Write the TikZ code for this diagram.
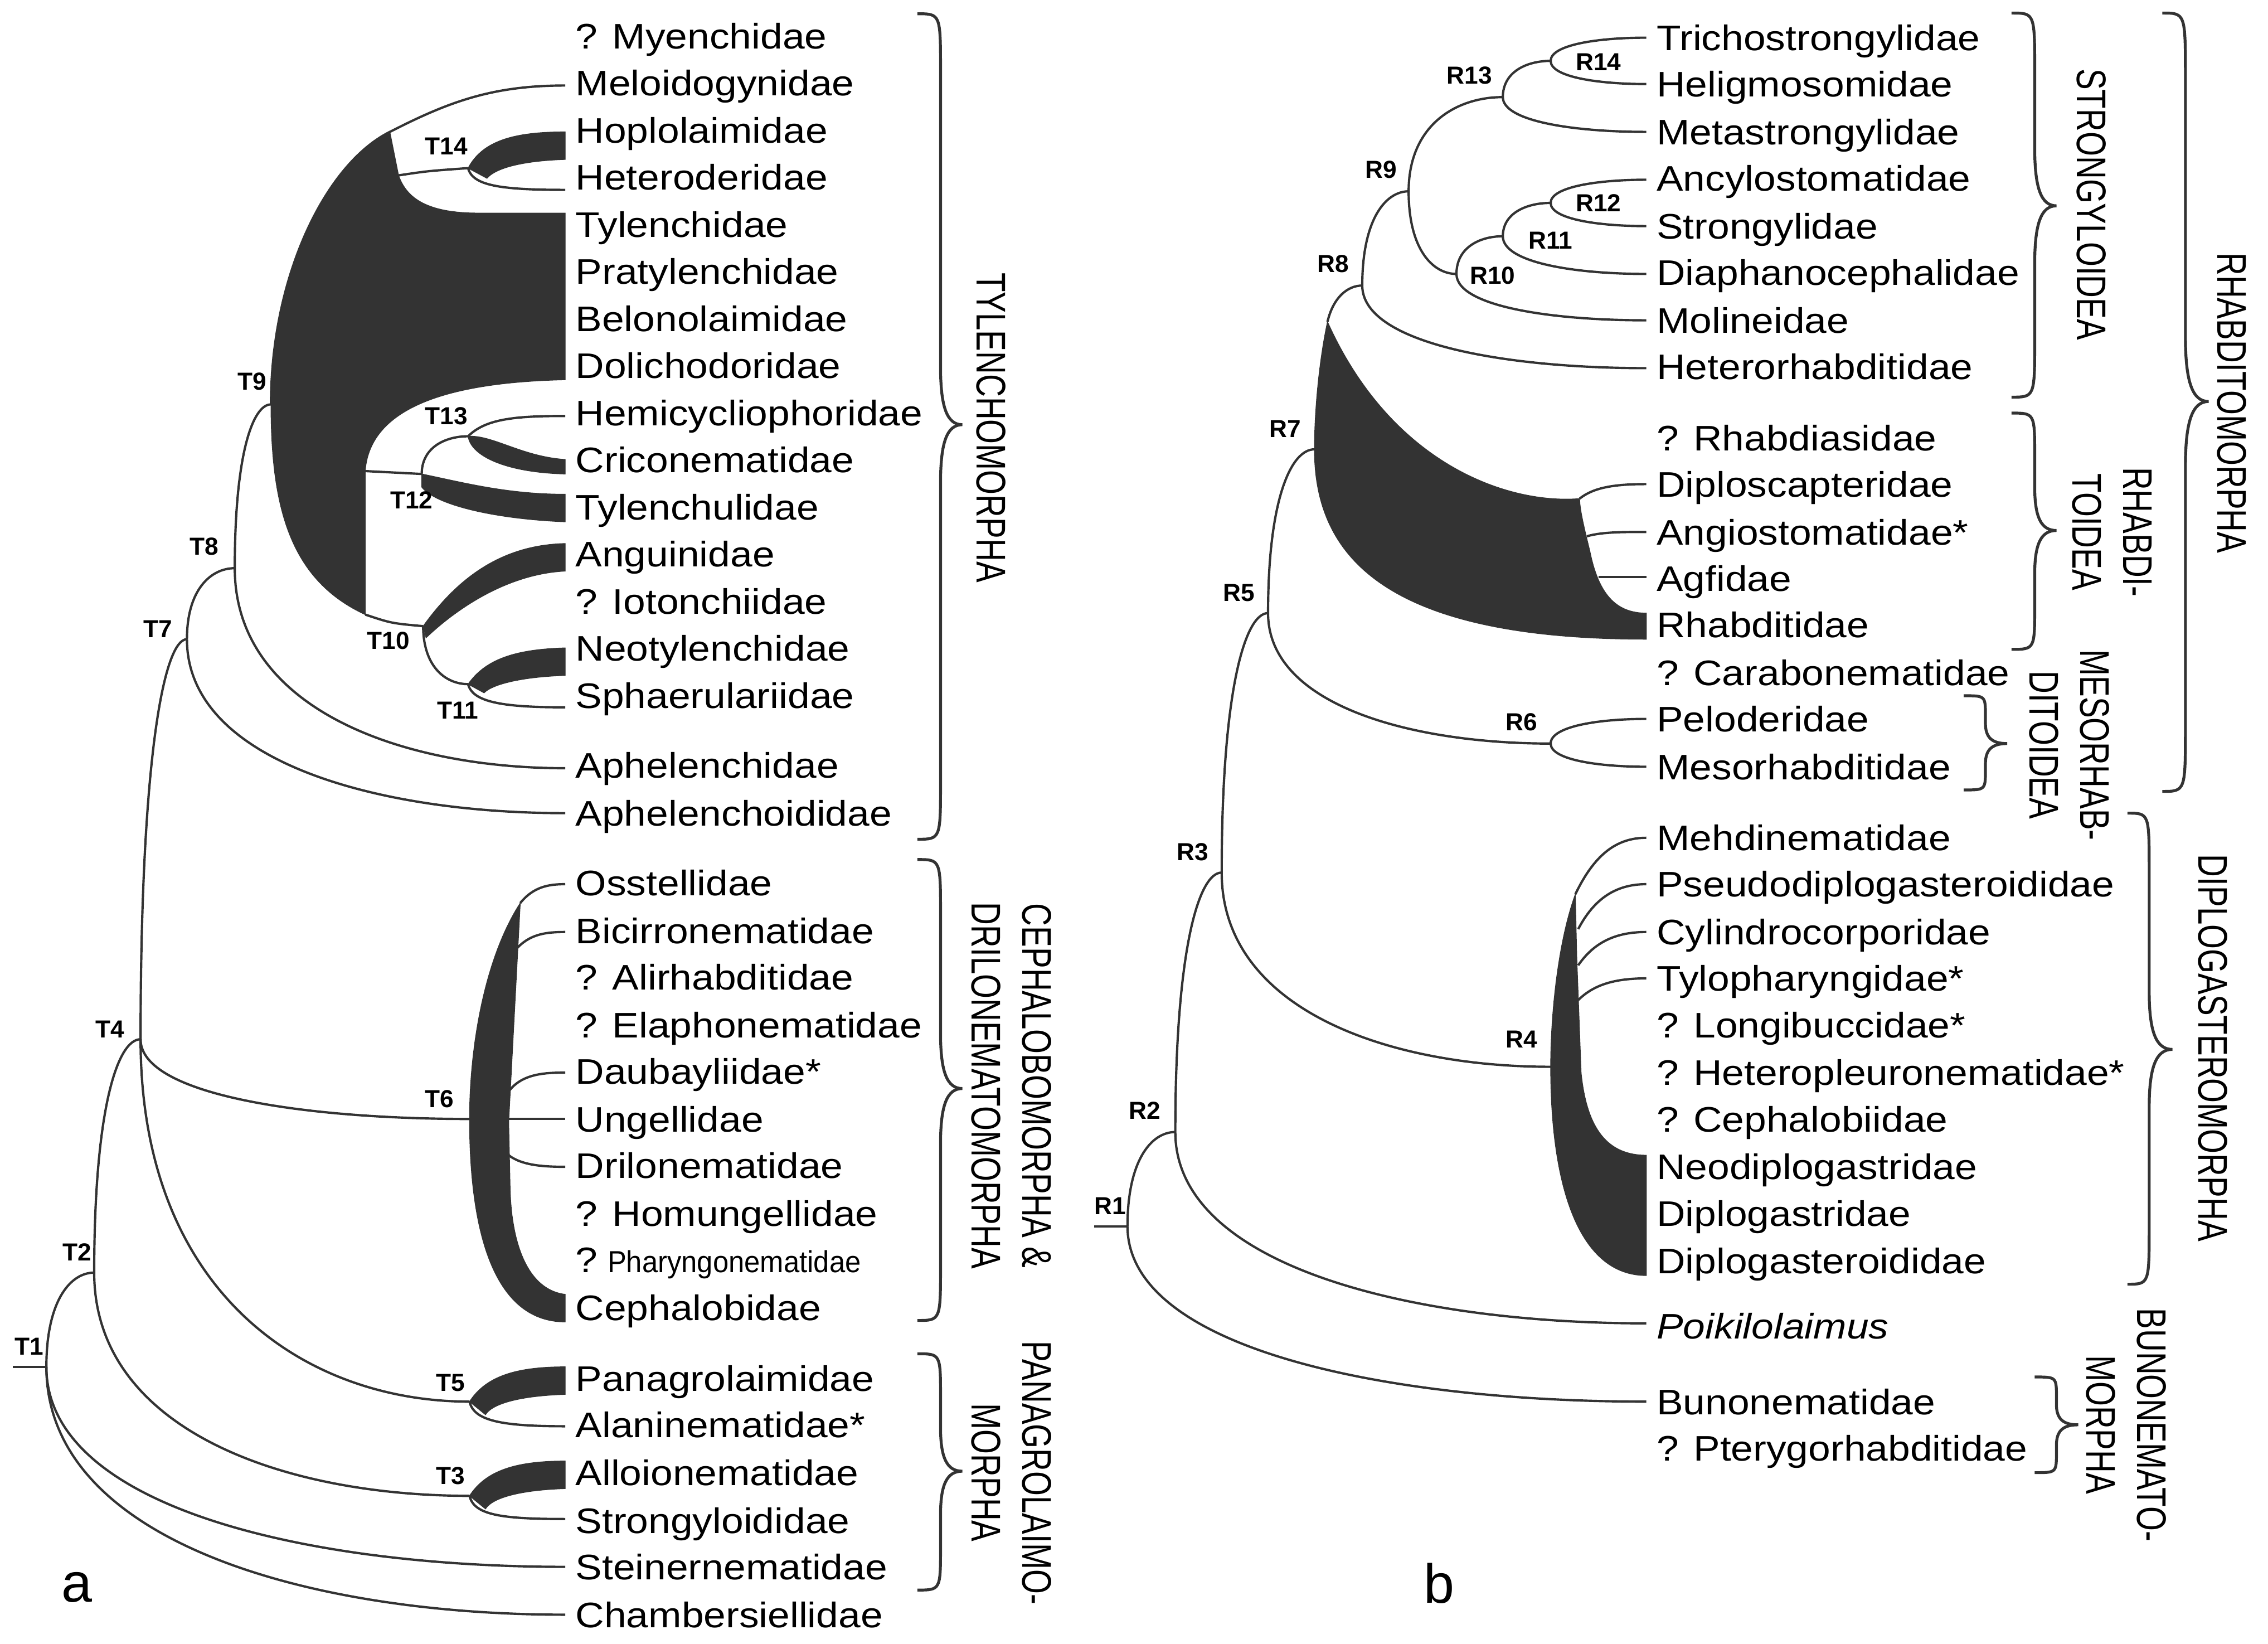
\documentclass[tikz,border=0pt]{standalone}
\usepackage{fontspec}
\setmainfont{Liberation Sans}
\usetikzlibrary{calc}
\definecolor{ink}{HTML}{333333}
\tikzset{
 br/.style={draw=ink, line width=1.6pt},
 blk/.style={fill=ink, draw=ink, line width=0.5pt},
 leaf/.style={inner sep=0pt, font=\fontsize{24.5}{29}\selectfont, anchor=base west},
 lab/.style={inner sep=0pt, font=\bfseries\fontsize{17}{20}\selectfont},
 grp/.style={inner sep=0pt, rotate=-90, align=center, font=\fontsize{28.6}{35}\selectfont},
 brc/.style={draw=ink, line width=2pt},
 pan/.style={inner sep=0pt, anchor=base, font=\fontsize{38}{40}\selectfont},
}
\newcommand\lf[1]{\scalebox{1.12}[1]{#1}}
\newcommand\gp[1]{\scalebox{0.76}[1]{#1}}
\newcommand\twig[2]{\draw[br] (#1) .. controls ($(#1)!0.7!(#1|-#2)$) and ($(#1|-#2)!0.5!(#2)$) .. (#2);}
\newcommand\lfa[3]{\node[leaf] (#1) at (397,{#2+8.8}) {\lf{#3}};}
\newcommand\lfb[3]{\node[leaf] (#1) at (1143,{#2+8.8}) {\lf{#3}};}
\newcommand\brc[7]{\draw[brc] (#1,#4) .. controls (#2,#4) and (#2,#4) .. (#2,{#4+#7}) -- (#2,{#5-#7}) .. controls (#2,{#5-0.3*#7}) and ({#2+0.3*(#3-#2)},#5) .. (#3,#5) .. controls ({#2+0.3*(#3-#2)},#5) and (#2,{#5+0.3*#7}) .. (#2,{#5+#7}) -- (#2,{#6-#7}) .. controls (#2,#6) and (#2,#6) .. (#1,#6);}
\begin{document}
\begin{tikzpicture}[x=1pt,y=-1pt]
\useasboundingbox (0,0) rectangle (1565,1134);
% ================= panel a =================
\coordinate (T1s) at (9,943);
\coordinate (T1) at (32,943);
\coordinate (T2) at (65,878);
\coordinate (T3) at (324,1032);
\coordinate (T4) at (97,717);
\coordinate (T5) at (324,967);
\coordinate (T6) at (324,772);
\coordinate (T7) at (129,441);
\coordinate (T8) at (162,392);
\coordinate (T9) at (187,279);
\coordinate (T10) at (292,432);
\coordinate (T11) at (323,472);
\coordinate (T12) at (291,327);
\coordinate (T13) at (323,301);
\coordinate (T14) at (323,116);
\coordinate (eMelo) at (390,59);
\coordinate (eHete) at (390,131);
\coordinate (eHemi) at (390,287);
\coordinate (eSpha) at (390,488);
\coordinate (eAph) at (390,530);
\coordinate (eAphd) at (390,561);
\coordinate (eOss) at (390,610);
\coordinate (eBic) at (390,643);
\coordinate (eDau) at (390,740);
\coordinate (eUng) at (390,772);
\coordinate (eDri) at (390,805);
\coordinate (eAla) at (390,984);
\coordinate (eStrd) at (390,1048);
\coordinate (eStein) at (390,1081);
\coordinate (eChamb) at (390,1114);
\coordinate (P91) at (269,91);
\coordinate (P121) at (275,121);
\coordinate (P325) at (252,325);
\coordinate (P424) at (252,424);

% black regions
\fill[blk] (T9) .. controls (187,190) and (225,113) .. (P91) -- (P121) .. controls (280,135) and (292,147) .. (330,147) -- (390,147) -- (390,262) .. controls (300,264) and (255,285) .. (P325) -- (P424) .. controls (200,400) and (187,350) .. (T9) -- cycle;
\fill[blk] (T14) .. controls (333,97) and (355,91) .. (390,91) -- (390,110) .. controls (360,111) and (342,116) .. (336,123) -- cycle;
\fill[blk] (T13) .. controls (340,300) and (360,315) .. (390,317) -- (390,327) .. controls (350,326) and (325,315) .. (T13) -- cycle;
\fill[blk] (T12) .. controls (320,333) and (350,341) .. (390,341) -- (390,360) .. controls (340,358) and (300,348) .. (291,336) -- cycle;
\fill[blk] (T10) .. controls (315,400) and (345,376) .. (390,375) -- (390,394) .. controls (350,396) and (315,420) .. (294,440) -- cycle;
\fill[blk] (T11) .. controls (335,455) and (355,448) .. (390,447) -- (390,466) .. controls (360,467) and (340,472) .. (334,478) -- cycle;
\fill[blk] (T5) .. controls (335,950) and (355,943) .. (390,943) -- (390,962) .. controls (360,963) and (340,968) .. (335,976) -- cycle;
\fill[blk] (T3) .. controls (335,1015) and (355,1008) .. (390,1008) -- (390,1027) .. controls (360,1028) and (340,1033) .. (335,1041) -- cycle;
\fill[blk] (359,623) .. controls (335,660) and (324,720) .. (T6) .. controls (324,860) and (345,912) .. (390,912) -- (390,893) .. controls (365,890) and (353,860) .. (352,820) -- (351,774) -- cycle;

% lines
\draw[br] (T1s) -- (T1);
\twig{T1}{T2}\twig{T1}{eStein}\twig{T1}{eChamb}
\twig{T2}{T4}\twig{T2}{T3}
\twig{T4}{T7}\twig{T4}{T6}\twig{T4}{T5}
\twig{T7}{T8}\twig{T7}{eAphd}
\twig{T8}{T9}\twig{T8}{eAph}
\draw[br] (T9) .. controls (187,190) and (225,113) .. (P91) .. controls (310,70) and (340,59) .. (eMelo);
\draw[br] (P121) .. controls (295,118) .. (T14);
\draw[br] (T14) .. controls (326,128) and (345,131) .. (eHete);
\draw[br] (P325) -- (T12);
\twig{T12}{T13}
\draw[br] (T13) .. controls (335,289) and (355,287) .. (eHemi);
\draw[br] (P424) .. controls (270,430) .. (T10);
\twig{T10}{T11}
\draw[br] (T11) .. controls (326,484) and (345,488) .. (eSpha);
\draw[br] (T5) .. controls (327,980) and (345,984) .. (eAla);
\draw[br] (T3) .. controls (327,1045) and (345,1048) .. (eStrd);
\draw[br] (359,623) .. controls (368,612) and (378,610) .. (eOss);
\draw[br] (356,655) .. controls (365,645) and (375,643) .. (eBic);
\draw[br] (351,753) .. controls (360,741) and (375,740) .. (eDau);
\draw[br] (351,772) -- (eUng);
\draw[br] (351,797) .. controls (360,804) and (375,805) .. (eDri);

% node labels
\node[lab] (lT1) at (20,929) {T1};
\node[lab] (lT2) at (53,864) {T2};
\node[lab] (lT3) at (311,1018) {T3};
\node[lab] (lT4) at (76,710) {T4};
\node[lab] (lT5) at (311,954) {T5};
\node[lab] (lT6) at (303,758) {T6};
\node[lab] (lT7) at (109,434) {T7};
\node[lab] (lT8) at (141,377) {T8};
\node[lab] (lT9) at (174,263) {T9};
\node[lab] (lT10) at (268,442) {T10};
\node[lab] (lT11) at (316,490) {T11};
\node[lab] (lT12) at (284,345) {T12};
\node[lab] (lT13) at (308,287) {T13};
\node[lab] (lT14) at (308,101) {T14};

% leaves a
\lfa{a1}{25}{? Myenchidae}
\lfa{a2}{57}{Meloidogynidae}
\lfa{a3}{90}{Hoplolaimidae}
\lfa{a4}{122}{Heteroderidae}
\lfa{a5}{155}{Tylenchidae}
\lfa{a6}{187}{Pratylenchidae}
\lfa{a7}{220}{Belonolaimidae}
\lfa{a8}{252}{Dolichodoridae}
\lfa{a9}{285}{Hemicycliophoridae}
\lfa{a10}{317}{Criconematidae}
\lfa{a11}{350}{Tylenchulidae}
\lfa{a12}{382}{Anguinidae}
\lfa{a13}{415}{? Iotonchiidae}
\lfa{a14}{447}{Neotylenchidae}
\lfa{a15}{480}{Sphaerulariidae}
\lfa{a16}{528}{Aphelenchidae}
\lfa{a17}{561}{Aphelenchoididae}
\lfa{a18}{609}{Osstellidae}
\lfa{a19}{642}{Bicirronematidae}
\lfa{a20}{674}{? Alirhabditidae}
\lfa{a21}{707}{? Elaphonematidae}
\lfa{a22}{739}{Daubayliidae*}
\lfa{a23}{772}{Ungellidae}
\lfa{a24}{804}{Drilonematidae}
\lfa{a25}{837}{? Homungellidae}
\node[leaf, font=\fontsize{24.5}{29}\selectfont] (a26) at (397,{869+8.8}) {\lf{?} \scalebox{0.93}[1]{\fontsize{21}{25}\selectfont Pharyngonematidae}};
\lfa{a27}{902}{Cephalobidae}
\lfa{a28}{951}{Panagrolaimidae}
\lfa{a29}{983}{Alaninematidae*}
\lfa{a30}{1016}{Alloionematidae}
\lfa{a31}{1049}{Strongyloididae}
\lfa{a32}{1081}{Steinernematidae}
\lfa{a33}{1114}{Chambersiellidae}

% braces a
\brc{633}{649}{664}{9.5}{293}{579}{40}
\brc{633}{649}{664}{593}{751}{911}{38}
\brc{633}{649}{664}{934}{1015}{1097}{30}
\node[grp] (gTyl) at (684,295) {\gp{TYLENCHOMORPHA}};
\node[grp] (gCeph) at (698,749) {\gp{CEPHALOBOMORPHA \&}\\\gp{DRILONEMATOMORPHA}};
\node[grp] (gPan) at (698,1016) {\gp{PANAGROLAIMO-}\\\gp{MORPHA}};
\node[pan] (pa) at (53,1105) {a};

% ================= panel b =================
\coordinate (R1s) at (755,846);
\coordinate (R1) at (778,846);
\coordinate (R2) at (811,781);
\coordinate (R3) at (843,602);
\coordinate (R4) at (1070,736);
\coordinate (R5) at (875,423);
\coordinate (R6) at (1070,513);
\coordinate (R7) at (907,310);
\coordinate (R8) at (940,197);
\coordinate (R9) at (972,132);
\coordinate (R10) at (1005,189);
\coordinate (R11) at (1037,163);
\coordinate (R12) at (1070,140);
\coordinate (R13) at (1037,67);
\coordinate (R14) at (1070,42);
\coordinate (eTri) at (1136,26);
\coordinate (eHel) at (1136,58);
\coordinate (eMet) at (1136,91);
\coordinate (eAnc) at (1136,124);
\coordinate (eStr) at (1136,156);
\coordinate (eDia) at (1136,189);
\coordinate (eMol) at (1136,221);
\coordinate (eHet) at (1136,254);
\coordinate (eDip) at (1136,334);
\coordinate (eAng) at (1136,367);
\coordinate (eAgf) at (1136,398);
\coordinate (ePel) at (1136,496);
\coordinate (eMes) at (1136,529);
\coordinate (eMeh) at (1136,578);
\coordinate (ePse) at (1136,610);
\coordinate (eCyl) at (1136,643);
\coordinate (eTyl) at (1136,675);
\coordinate (ePoi) at (1136,913);
\coordinate (eBun) at (1136,967);
\coordinate (Q222) at (916,222);
\coordinate (Q617) at (1087,617);

\fill[blk] (Q222) .. controls (910,250) and (907,285) .. (R7) .. controls (907,380) and (950,441) .. (1136,441) -- (1136,423) .. controls (1115,423) and (1103,410) .. (1097,380) .. controls (1092,360) and (1090,350) .. (1090,344) .. controls (1040,348) and (960,320) .. (Q222) -- cycle;
\fill[blk] (Q617) .. controls (1075,650) and (1070,700) .. (R4) .. controls (1070,820) and (1090,880) .. (1136,880) -- (1136,797) .. controls (1110,797) and (1095,780) .. (1091,740) -- (1088,660) -- cycle;

\draw[br] (R1s) -- (R1);
\twig{R1}{R2}\twig{R1}{eBun}
\twig{R2}{R3}\twig{R2}{ePoi}
\twig{R3}{R5}\twig{R3}{R4}
\twig{R5}{R7}\twig{R5}{R6}
\twig{R6}{ePel}\twig{R6}{eMes}
\draw[br] (Q222) .. controls (920,205) and (930,197) .. (R8);
\twig{R8}{R9}\twig{R8}{eHet}
\twig{R9}{R13}\twig{R9}{R10}
\twig{R13}{R14}\twig{R13}{eMet}
\twig{R14}{eTri}\twig{R14}{eHel}
\twig{R10}{R11}\twig{R10}{eMol}
\twig{R11}{R12}\twig{R11}{eDia}
\twig{R12}{eAnc}\twig{R12}{eStr}
\draw[br] (1090,344) .. controls (1100,336) and (1115,334) .. (eDip);
\draw[br] (1095,370) .. controls (1105,367) and (1120,367) .. (eAng);
\draw[br] (1103,398) -- (eAgf);
\draw[br] (Q617) .. controls (1100,590) and (1115,578) .. (eMeh);
\draw[br] (1089,641) .. controls (1100,620) and (1115,610) .. (ePse);
\draw[br] (1089,666) .. controls (1100,650) and (1115,643) .. (eCyl);
\draw[br] (1089,690) .. controls (1100,679) and (1115,675) .. (eTyl);

\node[lab] (lR1) at (766,832) {R1};
\node[lab] (lR2) at (790,766) {R2};
\node[lab] (lR3) at (823,588) {R3};
\node[lab] (lR4) at (1050,717) {R4};
\node[lab] (lR5) at (855,409) {R5};
\node[lab] (lR6) at (1050,498) {R6};
\node[lab] (lR7) at (887,296) {R7};
\node[lab] (lR8) at (920,182) {R8};
\node[lab] (lR9) at (953,117) {R9};
\node[lab] (lR10) at (1030,190) {R10};
\node[lab] (lR11) at (1070,166) {R11};
\node[lab] (lR12) at (1103,140) {R12};
\node[lab] (lR13) at (1014,52) {R13};
\node[lab] (lR14) at (1103,43) {R14};

\lfb{b1}{26}{Trichostrongylidae}
\lfb{b2}{58}{Heligmosomidae}
\lfb{b3}{91}{Metastrongylidae}
\lfb{b4}{123}{Ancylostomatidae}
\lfb{b5}{156}{Strongylidae}
\lfb{b6}{188}{Diaphanocephalidae}
\lfb{b7}{221}{Molineidae}
\lfb{b8}{253}{Heterorhabditidae}
\lfb{b9}{302}{? Rhabdiasidae}
\lfb{b10}{334}{Diploscapteridae}
\lfb{b11}{367}{Angiostomatidae*}
\lfb{b12}{399}{Agfidae}
\lfb{b13}{431}{Rhabditidae}
\lfb{b14}{464}{? Carabonematidae}
\lfb{b15}{496}{Peloderidae}
\lfb{b16}{529}{Mesorhabditidae}
\lfb{b17}{578}{Mehdinematidae}
\lfb{b18}{610}{Pseudodiplogasteroididae}
\lfb{b19}{643}{Cylindrocorporidae}
\lfb{b20}{675}{Tylopharyngidae*}
\lfb{b21}{707}{? Longibuccidae*}
\lfb{b22}{740}{? Heteropleuronematidae*}
\lfb{b23}{772}{? Cephalobiidae}
\lfb{b24}{805}{Neodiplogastridae}
\lfb{b25}{837}{Diplogastridae}
\lfb{b26}{870}{Diplogasteroididae}
\lfb{b27}{915}{\textit{Poikilolaimus}}
\lfb{b28}{967}{Bunonematidae}
\lfb{b29}{999}{? Pterygorhabditidae}

\brc{1388}{1404}{1419}{9}{142}{274}{40}
\brc{1388}{1404}{1419}{285}{366}{448}{30}
\brc{1355}{1370}{1385}{480}{513}{545}{14}
\brc{1492}{1508}{1524}{9}{277}{546}{45}
\brc{1468}{1483}{1499}{561}{724}{886}{40}
\brc{1404}{1419}{1434}{950}{983}{1016}{14}
\node[grp] (gStr) at (1443,141) {\gp{STRONGYLOIDEA}};
\node[grp] (gRhb) at (1457.5,367) {\gp{RHABDI-}\\\gp{TOIDEA}};
\node[grp] (gMes) at (1428,514) {\gp{MESORHAB-}\\\gp{DITOIDEA}};
\node[grp] (gRhm) at (1540,278) {\gp{RHABDITOMORPHA}};
\node[grp] (gDip) at (1527,723) {\gp{DIPLOGASTEROMORPHA}};
\node[grp] (gBun) at (1467,983) {\gp{BUNONEMATO-}\\\gp{MORPHA}};
\node[pan] (pb) at (993,1106) {b};
\end{tikzpicture}
\end{document}
